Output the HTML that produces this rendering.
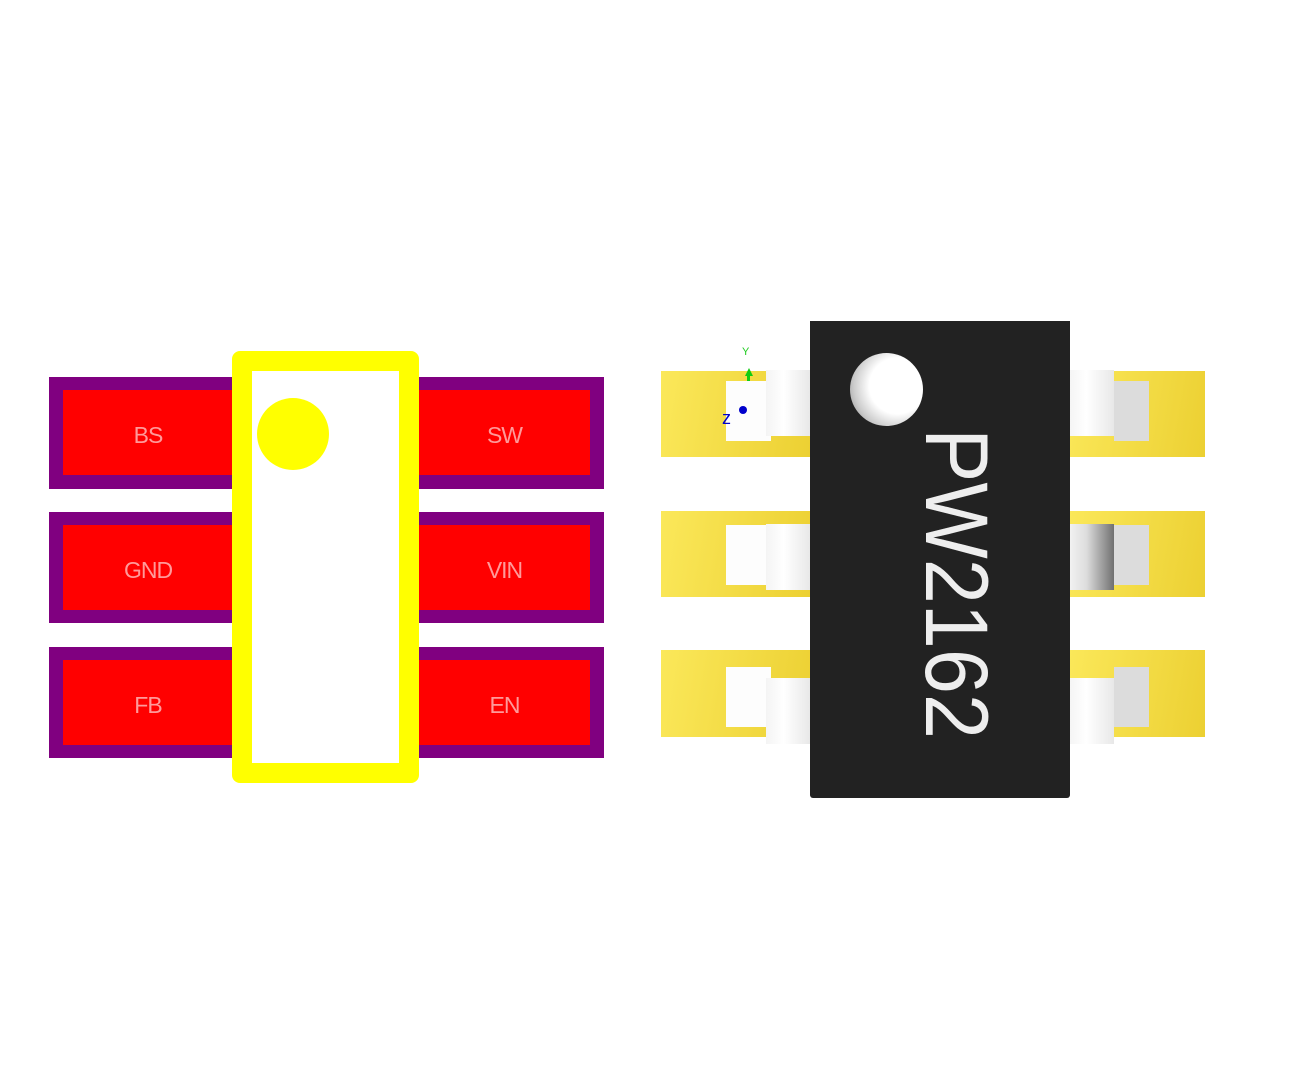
<!DOCTYPE html>
<html><head><style>
body{margin:0;width:1295px;height:1079px;background:#fff;position:relative;overflow:hidden;font-family:"Liberation Sans",sans-serif}
div{position:absolute;box-sizing:border-box}
.pp{background:#800080}
.rd{background:#f00;color:#ff9a9a;font-size:23px;display:flex;align-items:center;justify-content:center;padding-top:5px;letter-spacing:-1px}
.g{background:linear-gradient(100deg,#fbe85a,#ecd032)}
.w{background:#fdfdfd}
.wl{background:linear-gradient(90deg,#f4f4f4,#fff 40%,#e8e8e8)}
.gr{background:#dcdcdc}
</style></head><body>
<div class="pp" style="left:49px;top:377px;width:555px;height:112px"></div>
<div class="pp" style="left:49px;top:512px;width:555px;height:111px"></div>
<div class="pp" style="left:49px;top:647px;width:555px;height:111px"></div>
<div class="rd" style="left:63px;top:390px;width:170px;height:85px">BS</div>
<div class="rd" style="left:419px;top:390px;width:171px;height:85px">SW</div>
<div class="rd" style="left:63px;top:525px;width:170px;height:85px">GND</div>
<div class="rd" style="left:419px;top:525px;width:171px;height:85px">VIN</div>
<div class="rd" style="left:63px;top:660px;width:170px;height:85px">FB</div>
<div class="rd" style="left:419px;top:660px;width:171px;height:85px">EN</div>
<div style="left:232px;top:351px;width:187px;height:432px;border:20px solid #ff0;border-radius:8px;background:#fff"></div>
<div style="left:257px;top:398px;width:72px;height:72px;border-radius:50%;background:#ff0"></div>

<div class="g" style="left:661px;top:371px;width:150px;height:86px"></div>
<div class="g" style="left:661px;top:511px;width:150px;height:86px"></div>
<div class="g" style="left:661px;top:650px;width:150px;height:87px"></div>
<div class="g" style="left:1068px;top:371px;width:137px;height:86px"></div>
<div class="g" style="left:1068px;top:511px;width:137px;height:86px"></div>
<div class="g" style="left:1068px;top:650px;width:137px;height:87px"></div>

<div class="w" style="left:726px;top:381px;width:45px;height:60px"></div>
<div class="wl" style="left:766px;top:370px;width:44px;height:66px"></div>
<div class="w" style="left:726px;top:525px;width:45px;height:60px"></div>
<div class="wl" style="left:766px;top:524px;width:44px;height:66px"></div>
<div class="w" style="left:726px;top:667px;width:45px;height:60px"></div>
<div class="wl" style="left:766px;top:678px;width:44px;height:66px"></div>

<div class="wl" style="left:1068px;top:370px;width:46px;height:66px"></div>
<div class="gr" style="left:1114px;top:381px;width:35px;height:60px"></div>
<div style="left:1068px;top:524px;width:46px;height:66px;background:linear-gradient(90deg,#f4f4f4,#ddd 40%,#707070)"></div>
<div class="gr" style="left:1114px;top:525px;width:35px;height:60px"></div>
<div class="wl" style="left:1068px;top:678px;width:46px;height:66px"></div>
<div class="gr" style="left:1114px;top:667px;width:35px;height:60px"></div>

<div style="left:810px;top:321px;width:260px;height:477px;background:#222;border-radius:0 0 3px 3px"></div>
<div style="left:850px;top:353px;width:73px;height:73px;border-radius:50%;background:radial-gradient(circle at 65% 45%,#fff 45%,#ccc 70%,#777 100%)"></div>
<div style="left:957px;top:583px;width:0;height:0">
<div style="left:-170px;top:-45px;width:340px;height:90px;transform:rotate(90deg) scaleX(0.91);color:#eee;font-size:89px;line-height:90px;text-align:center">PW2162</div></div>

<div style="left:742px;top:346px;color:#2c2;font-size:11px">Y</div>
<div style="left:745px;top:368px;width:0;height:0;border-left:4px solid transparent;border-right:4px solid transparent;border-bottom:8px solid #1c1"></div>
<div style="left:747px;top:375px;width:3px;height:6px;background:#1c1"></div>
<div style="left:739px;top:406px;width:8px;height:8px;border-radius:50%;background:#00c"></div>
<div style="left:722px;top:408px;color:#00c;font-size:18px">z</div>
</body></html>
